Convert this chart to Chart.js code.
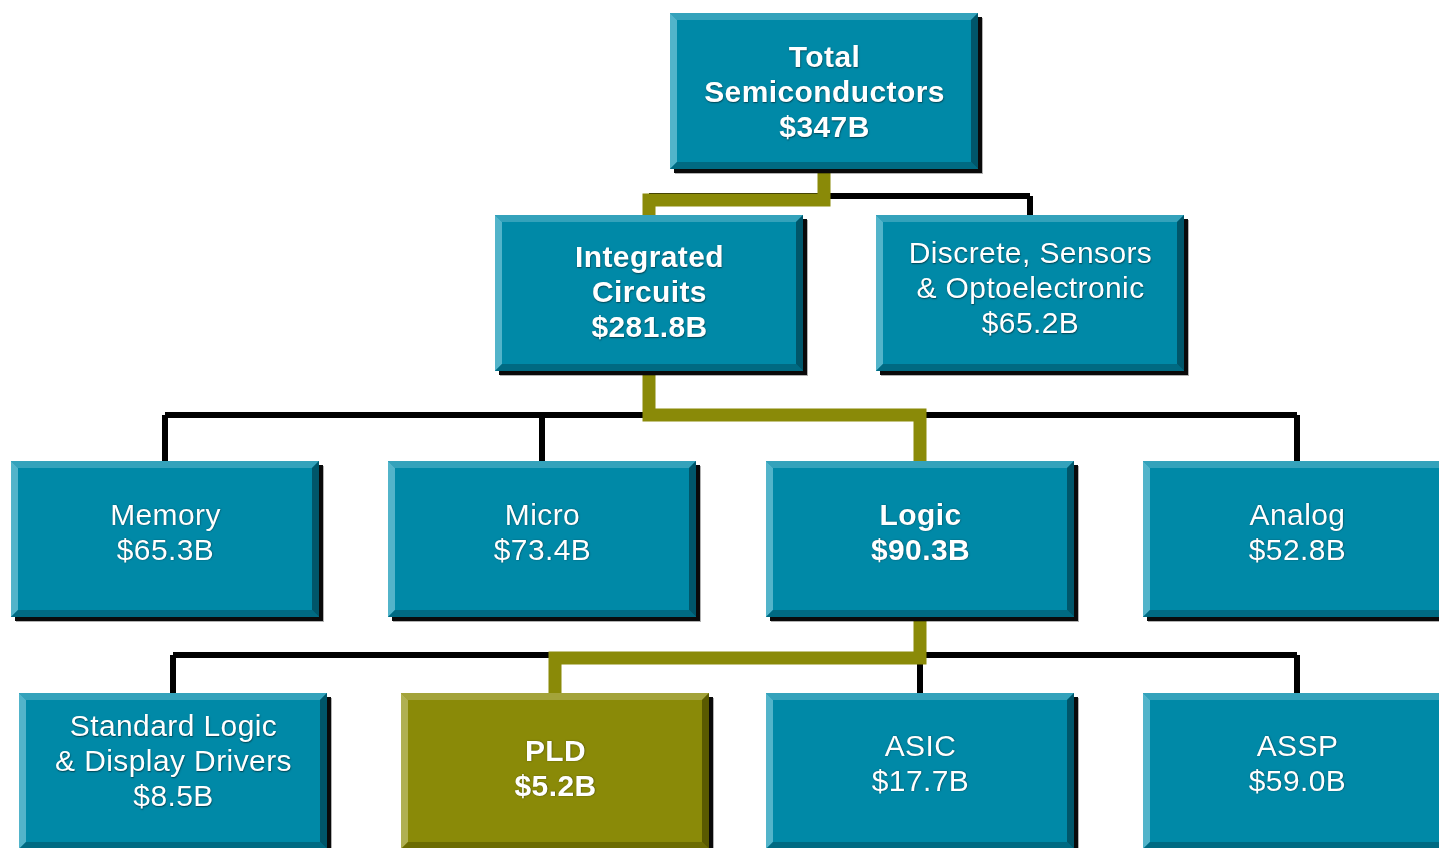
<!DOCTYPE html>
<html>
<head>
<meta charset="utf-8">
<script src="https://cdn.jsdelivr.net/npm/chart.js@4.4.1/dist/chart.umd.min.js"></script>
<style>
  html, body { margin: 0; padding: 0; background: #ffffff; overflow: hidden; }
  #wrap { position: relative; width: 1439px; height: 848px; }
</style>
</head>
<body>
<div id="wrap"><canvas id="c"></canvas></div>
<script>
// ---- Data ----
const nodeNames = [
  ["Total", "Semiconductors"],
  ["Integrated", "Circuits"],
  ["Discrete, Sensors", "& Optoelectronic"],
  ["Memory"],
  ["Micro"],
  ["Logic"],
  ["Analog"],
  ["Standard Logic", "& Display Drivers"],
  ["PLD"],
  ["ASIC"],
  ["ASSP"]
];
const nodeValues = ["$347B", "$281.8B", "$65.2B", "$65.3B", "$73.4B", "$90.3B", "$52.8B", "$8.5B", "$5.2B", "$17.7B", "$59.0B"];
const nodeParents = [-1, 0, 0, 1, 1, 1, 1, 5, 5, 5, 5];
const nodeLevels = [0, 1, 1, 2, 2, 2, 2, 3, 3, 3, 3];
const highlightPath = [0, 1, 5, 8];   // path from the root to the focus node
const focusNode = 8;                   // PLD

// ---- Layout (pixels in a 1439 x 848 frame) ----
const boxLeft = [670, 495, 876, 11, 388, 766, 1143, 19, 401, 766, 1143];
const textDy = [7, 5, 1, -1, -1, -1, -1, -4, 3, -2, -2];
const rowTop = [13, 215, 461, 693];
const BOX_W = 308, BOX_H = 156;
const blackBusY = [196, 415, 655];
const oliveBusY = [200, 415, 658];

const TEAL = '#0089a7', TEAL_LIGHT = '#52b4ca', TEAL_TOP = '#34a2bb', TEAL_DARK = '#00566a', TEAL_BOTTOM = '#006a82';
const OLIVE = '#8a8a08', OLIVE_LIGHT = '#b0b052', OLIVE_TOP = '#a3a33a', OLIVE_DARK = '#5a5a00', OLIVE_BOTTOM = '#6c6c02';

function boxCx(i) { return boxLeft[i] + BOX_W / 2; }
function boxTop(i) { return rowTop[nodeLevels[i]]; }
function boxBottom(i) { return boxTop(i) + BOX_H; }

// Build connector datasets
const blackSets = [];
const oliveSets = [];
const parentsWithKids = [...new Set(nodeParents.filter(p => p >= 0))];
parentsWithKids.forEach(p => {
  const kids = nodeParents.map((q, i) => q === p ? i : -1).filter(i => i >= 0);
  const lvl = nodeLevels[p];
  const by = blackBusY[lvl];
  const xs = kids.map(boxCx).concat([boxCx(p)]);
  blackSets.push([{x: Math.min(...xs), y: by}, {x: Math.max(...xs), y: by}]);
  blackSets.push([{x: boxCx(p), y: boxBottom(p)}, {x: boxCx(p), y: by}]);
  kids.forEach(k => blackSets.push([{x: boxCx(k), y: by}, {x: boxCx(k), y: boxTop(k)}]));
});
for (let j = 0; j < highlightPath.length - 1; j++) {
  const p = highlightPath[j], k = highlightPath[j + 1];
  const oy = oliveBusY[nodeLevels[p]];
  oliveSets.push([{x: boxCx(p), y: boxBottom(p)}, {x: boxCx(p), y: oy}, {x: boxCx(k), y: oy}, {x: boxCx(k), y: boxTop(k)}]);
}

const datasets = [];
blackSets.forEach(d => datasets.push({
  data: d, showLine: true, borderColor: '#000000', borderWidth: 6, pointRadius: 0, order: 5,
  borderCapStyle: 'butt', borderJoinStyle: 'miter', tension: 0, fill: false
}));
oliveSets.forEach(d => datasets.push({
  data: d, showLine: true, borderColor: OLIVE, borderWidth: 13, pointRadius: 0, order: 1,
  borderCapStyle: 'butt', borderJoinStyle: 'miter', tension: 0, fill: false
}));
// node anchor points (centers)
datasets.push({
  data: nodeNames.map((n, i) => ({x: boxCx(i), y: boxTop(i) + BOX_H / 2})),
  pointRadius: 0, showLine: false, order: 0
});

const boxPlugin = {
  id: 'boxes',
  afterDatasetsDraw(chart) {
    const ctx = chart.ctx;
    const xs = chart.scales.x, ys = chart.scales.y;
    nodeNames.forEach((lines, i) => {
      const x1 = xs.getPixelForValue(boxLeft[i]);
      const x2 = xs.getPixelForValue(boxLeft[i] + BOX_W);
      const y1 = ys.getPixelForValue(boxTop(i));
      const y2 = ys.getPixelForValue(boxTop(i) + BOX_H);
      const w = x2 - x1, h = y2 - y1;
      const olive = i === focusNode;
      const face = olive ? OLIVE : TEAL;
      const bv = 7;
      ctx.save();
      // shadow
      ctx.fillStyle = 'rgba(0,0,0,0.3)';
      ctx.fillRect(x1 + 5, y1 + 5, w, h);
      ctx.fillStyle = '#0a0a0a';
      ctx.fillRect(x1 + 4, y1 + 4, w, h);
      // face
      ctx.fillStyle = face;
      ctx.fillRect(x1, y1, w, h);
      // bevels
      ctx.fillStyle = olive ? OLIVE_TOP : TEAL_TOP;
      ctx.beginPath(); ctx.moveTo(x1, y1); ctx.lineTo(x2, y1); ctx.lineTo(x2 - bv, y1 + bv); ctx.lineTo(x1 + bv, y1 + bv); ctx.closePath(); ctx.fill();
      ctx.fillStyle = olive ? OLIVE_LIGHT : TEAL_LIGHT;
      ctx.beginPath(); ctx.moveTo(x1, y1); ctx.lineTo(x1 + bv, y1 + bv); ctx.lineTo(x1 + bv, y2 - bv); ctx.lineTo(x1, y2); ctx.closePath(); ctx.fill();
      ctx.fillStyle = olive ? OLIVE_BOTTOM : TEAL_BOTTOM;
      ctx.beginPath(); ctx.moveTo(x1, y2); ctx.lineTo(x1 + bv, y2 - bv); ctx.lineTo(x2 - bv, y2 - bv); ctx.lineTo(x2, y2); ctx.closePath(); ctx.fill();
      ctx.fillStyle = olive ? OLIVE_DARK : TEAL_DARK;
      ctx.beginPath(); ctx.moveTo(x2, y1); ctx.lineTo(x2, y2); ctx.lineTo(x2 - bv, y2 - bv); ctx.lineTo(x2 - bv, y1 + bv); ctx.closePath(); ctx.fill();
      // text
      const bold = highlightPath.includes(i);
      const all = lines.concat([nodeValues[i]]);
      const lh = 35;
      const midY = (y1 + y2) / 2 - 4 + textDy[i];
      const startY = midY - (all.length - 1) * lh / 2;
      ctx.font = (bold ? 'bold ' : '') + '30px "Liberation Sans", Arial, sans-serif';
      try { ctx.letterSpacing = '0.4px'; } catch (e) {}
      ctx.textAlign = 'center';
      ctx.textBaseline = 'middle';
      ctx.shadowColor = 'rgba(0,0,0,0.5)';
      ctx.shadowBlur = 1.5;
      ctx.shadowOffsetX = 0.5;
      ctx.shadowOffsetY = 0.5;
      ctx.fillStyle = '#ffffff';
      all.forEach((t, j) => ctx.fillText(t, (x1 + x2) / 2 + 0.5, startY + j * lh));
      ctx.restore();
    });
  }
};

new Chart(document.getElementById('c'), {
  type: 'scatter',
  data: { datasets },
  options: {
    responsive: true,
    maintainAspectRatio: false,
    animation: false,
    layout: { padding: 0 },
    clip: false,
    scales: {
      x: { type: 'linear', min: 0, max: 1439, display: false },
      y: { type: 'linear', min: 0, max: 848, reverse: true, display: false }
    },
    plugins: { legend: { display: false }, tooltip: { enabled: false } },
    events: []
  },
  plugins: [boxPlugin]
});
</script>
</body>
</html>
